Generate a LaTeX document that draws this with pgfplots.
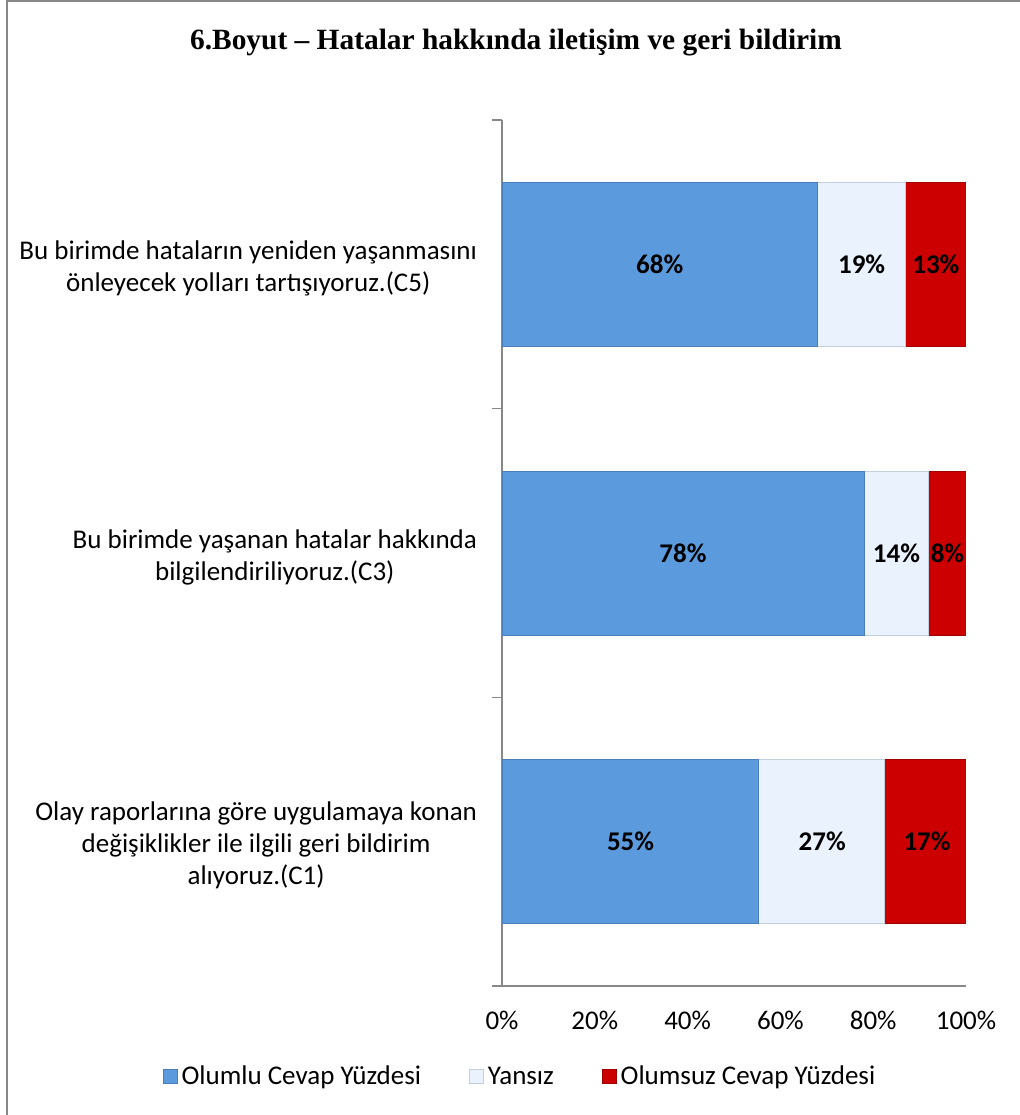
\documentclass[border=0pt]{standalone}
\usepackage{pgfplots}
\pgfplotsset{compat=1.18}
\usepackage{fontspec}
\setmainfont{Carlito}
\newfontfamily\titlefont{Liberation Serif}
\definecolor{cblue}{HTML}{5C9ADE}
\definecolor{cblueE}{HTML}{4A7EBB}
\definecolor{cwhite}{HTML}{E9F2FD}
\definecolor{cwhiteE}{HTML}{C4CFDD}
\definecolor{cred}{HTML}{CC0000}
\definecolor{credE}{HTML}{9E0000}
\definecolor{axgray}{HTML}{888888}
\begin{document}
\begin{tikzpicture}
\useasboundingbox (0,0) rectangle (510pt,-557.5pt);
\draw[axgray, line width=1pt] (3.5pt,-557.5pt) -- (3.5pt,-0.6pt) -- (510pt,-0.6pt);
\node[font=\titlefont\bfseries\fontsize{14.7}{17}\selectfont] at (258pt,-21.5pt) {6.Boyut – Hatalar hakkında iletişim ve geri bildirim};
\begin{axis}[
  at={(251pt,-493pt)}, anchor=south west,
  width=232pt, height=433pt, scale only axis,
  xbar stacked, bar width=82pt,
  xmin=0, xmax=100, ymin=-0.5, ymax=2.5,
  axis lines*=left,
  axis line style={axgray, line width=0.8pt},
  xtick={0,20,40,60,80,100},
  xticklabels={0\%,20\%,40\%,60\%,80\%,100\%},
  ytick={0,1,2},
  yticklabels={{Olay raporlarına göre uygulamaya konan\\değişiklikler ile ilgili geri bildirim\\alıyoruz.(C1)},
               {Bu birimde yaşanan hatalar hakkında\\bilgilendiriliyoruz.(C3)},
               {Bu birimde hataların yeniden yaşanmasını\\önleyecek yolları tartışıyoruz.(C5)}},
  minor ytick={-0.5,0.5,1.5,2.5},
  major tick length=0pt,
  minor tick length=5pt,
  tick align=outside,
  tick style={axgray, line width=0.8pt},
  /pgf/number format/assume math mode=true,
  ticklabel style={font=\fontsize{13.5}{16}\selectfont},
  yticklabel style={align=center, xshift=-9pt, yshift=-2pt},
  xticklabel style={yshift=-9pt},
  legend style={at={(0.041,-0.105)}, anchor=center, draw=none, legend columns=3,
    font=\fontsize{13.5}{16.5}\selectfont,
    /tikz/every even column/.append style={column sep=22pt}},
  legend image code/.code={\fill[#1] (0pt,-3.3pt) rectangle (7pt,3.7pt);},
]
\addplot[fill=cblue, draw=cblueE] coordinates {(55.3,0) (78,1) (68,2)};
\addlegendentry{Olumlu Cevap Yüzdesi}
\addplot[fill=cwhite, draw=cwhiteE] coordinates {(27.2,0) (14,1) (19,2)};
\addlegendentry{Yansız}
\addplot[fill=cred, draw=credE] coordinates {(17.5,0) (8,1) (13,2)};
\addlegendentry{Olumsuz Cevap Yüzdesi}
\end{axis}
\begin{axis}[
  at={(251pt,-493pt)}, anchor=south west,
  width=232pt, height=433pt, scale only axis,
  xmin=0, xmax=100, ymin=-0.5, ymax=2.5,
  hide axis,
]
\addplot[only marks, mark=none, nodes near coords, point meta=explicit symbolic,
  every node near coord/.style={anchor=center, font=\bfseries\fontsize{13.5}{16.5}\selectfont, text=black}]
  coordinates {
  (27.7,0) [55\%] (69,0) [27\%] (91.6,0) [17\%]
  (39,1) [78\%] (85,1) [14\%] (96,1) [8\%]
  (34,2) [68\%] (77.5,2) [19\%] (93.5,2) [13\%]
  };
\end{axis}
\end{tikzpicture}
\end{document}
